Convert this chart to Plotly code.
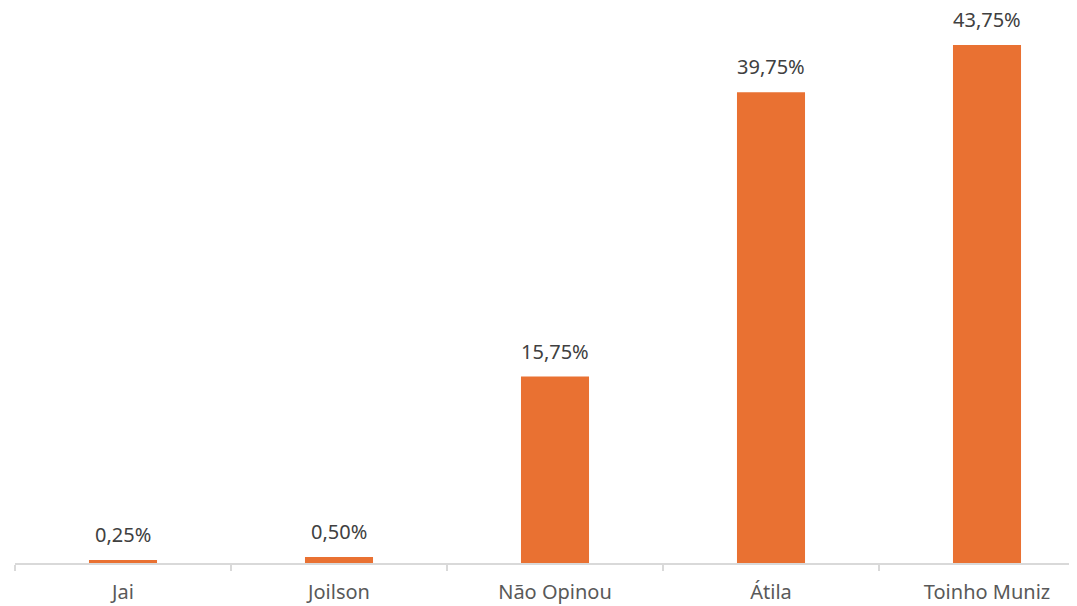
import plotly.graph_objects as go

categories = ["Jai", "Joilson", "Não Opinou", "Átila", "Toinho Muniz"]
values = [0.25, 0.50, 15.75, 39.75, 43.75]
labels = ["0,25%", "0,50%", "15,75%", "39,75%", "43,75%"]

BAR = "#E97132"
FONT = "Noto Sans, Open Sans, sans-serif"

fig = go.Figure()
fig.add_trace(go.Bar(
    x=categories, y=values, width=0.315,
    marker=dict(color=BAR, line=dict(width=0)),
    hoverinfo="skip",
))

for c, v, t in zip(categories, values, labels):
    fig.add_annotation(
        x=c, y=v, text=t, showarrow=False,
        yanchor="bottom", yshift=10,
        font=dict(family=FONT, size=20, color="#404040"),
    )

fig.update_layout(
    width=1069, height=598,
    margin=dict(l=7, r=0, t=0, b=43),
    paper_bgcolor="white", plot_bgcolor="white",
    showlegend=False,
    font=dict(family=FONT, size=20, color="#595959"),
)
fig.update_xaxes(
    range=[-0.5, -0.5 + 1062 / 216],
    showline=True, linecolor="#D9D9D9", linewidth=1.5,
    ticks="outside", tickson="boundaries", ticklen=6, tickcolor="#D9D9D9", tickwidth=1.5,
    ticklabelstandoff=10,
    tickfont=dict(family=FONT, size=20, color="#595959"),
    showgrid=False, zeroline=False, automargin=False,
)
fig.update_yaxes(
    range=[0, 555 / 11.84],
    showgrid=False, zeroline=False, showticklabels=False, showline=False,
)

fig.write_html("out.html")
